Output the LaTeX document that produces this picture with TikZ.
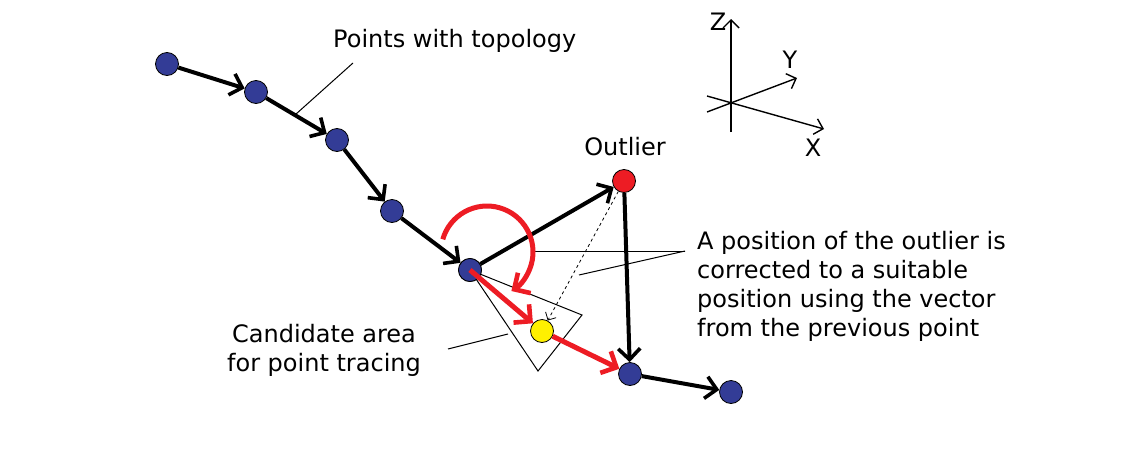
\documentclass[tikz,border=0pt]{standalone}
\usepackage{fontspec}
\setmainfont{DejaVu Sans}
\usetikzlibrary{arrows.meta,positioning,calc}
\definecolor{ptblue}{RGB}{51,60,150}
\definecolor{ptred}{RGB}{237,28,36}
\definecolor{ptyellow}{RGB}{255,240,0}

\begin{document}
\begin{tikzpicture}[x=1pt, y=-1pt,
    pt/.style={circle, draw=black, line width=0.8pt, fill=ptblue,
      minimum size=23pt, inner sep=0pt},
    outl/.style={pt, fill=ptred},
    cand/.style={pt, fill=ptyellow},
    link/.style={-{Straight Barb[length=11pt,width=22pt,line width=3.6pt]},
      line width=4pt, draw=black},
    fix/.style={-{Straight Barb[length=12pt,width=24pt,line width=4.6pt]},
      line width=5pt, draw=ptred},
    lead/.style={line width=1pt, draw=black},
    axis/.style={-{Straight Barb[length=8pt,width=16pt,line width=1.4pt]},
      line width=1.4pt},
    lbl/.style={font=\fontsize{24}{29}\selectfont, inner sep=0pt}
  ]
    \useasboundingbox (0,0) rectangle (1145,450);

    % points
    \node[pt] (p1) at (167,64) {};
    \node[pt] (p2) at (256,92) {};
    \node[pt] (p3) at (337,140) {};
    \node[pt] (p4) at (392,211) {};
    \node[pt] (p5) at (470,270) {};
    \node[pt] (p6) at (630,374) {};
    \node[pt] (p7) at (731,392) {};
    \node[outl] (out) at (624,181) {};
    \node[cand] (yel) at (542,331) {};

    % candidate area
    \coordinate (tri1) at (582,315);
    \coordinate (tri2) at (538,371);
    \draw[lead] (p5.center) -- (tri1) -- (tri2) -- cycle;

    % labels
    \node[lbl, anchor=west] (ttopo) at (333,41) {Points with topology};
    \node[lbl] (tout) at (625,147) {Outlier};
    \node[lbl, anchor=north west, align=left] (tfix) at (697,231)
      {A position of the outlier is\\corrected to a suitable\\position using the vector\\from the previous point};
    \node[lbl, align=center] (tcand) at (324,350) {Candidate area\\for point tracing};

    % leaders
    \coordinate (topoend) at (353,63);
    \draw[lead] (topoend) -- ($(p2)!0.48!(p3)$);
    \coordinate (fixhub) at (685,251);
    \coordinate (fixarc) at (533,251);
    \coordinate (fixdash) at (579,275);
    \draw[lead] (fixhub) -- (fixarc);
    \draw[lead] (fixhub) -- (fixdash);
    \coordinate (candfrom) at (448,349);
    \coordinate (candto) at (508,334);
    \draw[lead] (candfrom) -- (candto);

    % topology
    \draw[link] (p1) -- (p2);
    \draw[link] (p2) -- (p3);
    \draw[link] (p3) -- (p4);
    \draw[link] (p4) -- (p5);
    \draw[link] (p5) -- (out);
    \draw[link] (out) -- (p6);
    \draw[link] (p6) -- (p7);
    \node[pt] at (p5) {};

    % correction
    \draw[dashed, line width=0.8pt, -{Straight Barb[length=6pt,width=12pt]}] (out) -- (yel);
    \draw[fix] (p5.center) -- (yel);
    \draw[fix] (yel) -- (p6);
    \draw[fix] ($(p5)+(17,-18)+(196:46)$) arc (196:418:46);

    % axes
    \coordinate (ax0) at (731,132);
    \coordinate (axz) at (731,19);
    \coordinate (ay0) at (707,112);
    \coordinate (axy) at (797,78);
    \coordinate (ax1) at (707,96);
    \coordinate (axx) at (824,129);
    \draw[axis] (ax0) -- (axz);
    \draw[axis] (ay0) -- (axy);
    \draw[axis] (ax1) -- (axx);
    \node[lbl] (lz) at (718,22) {Z};
    \node[lbl] (ly) at (790,60) {Y};
    \node[lbl] (lx) at (813,148) {X};
\end{tikzpicture}
\end{document}
